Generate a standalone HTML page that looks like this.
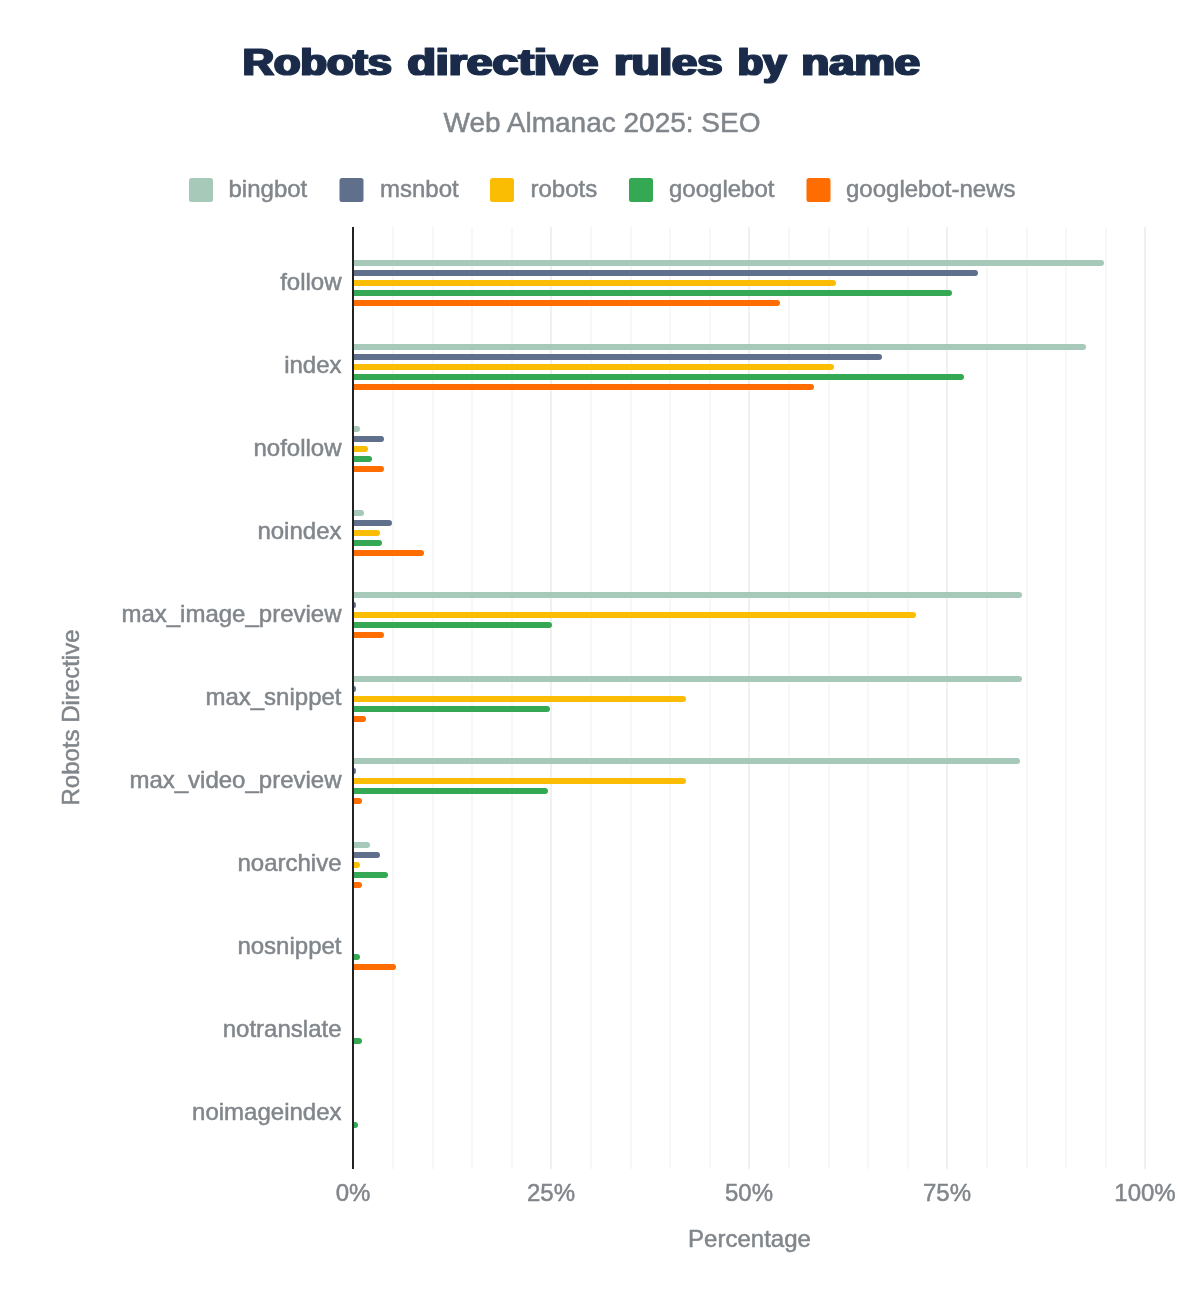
<!DOCTYPE html>
<html lang="en"><head><meta charset="utf-8"><title>Robots directive rules by name</title>
<style>
html,body{margin:0;padding:0;background:#fff;}
body{width:1200px;height:1296px;overflow:hidden;}
svg{display:block;will-change:transform;}
text{font-family:"Liberation Sans",Arial,Helvetica,sans-serif;}
.t{fill:#80868b;font-size:24px;stroke:#80868b;stroke-width:0.5px;}
</style></head><body>
<svg width="1200" height="1296" viewBox="0 0 1200 1296">
<defs><filter id="hv" x="-5%" y="-20%" width="110%" height="140%"><feMorphology operator="dilate" radius="1 0"/></filter></defs>

<rect x="392.0" y="227" width="2" height="942" fill="#f7f7f7"/>
<rect x="432.0" y="227" width="2" height="942" fill="#f7f7f7"/>
<rect x="471.0" y="227" width="2" height="942" fill="#f7f7f7"/>
<rect x="511.0" y="227" width="2" height="942" fill="#f7f7f7"/>
<rect x="550.0" y="227" width="2" height="942" fill="#f0f0f0"/>
<rect x="590.0" y="227" width="2" height="942" fill="#f7f7f7"/>
<rect x="630.0" y="227" width="2" height="942" fill="#f7f7f7"/>
<rect x="669.0" y="227" width="2" height="942" fill="#f7f7f7"/>
<rect x="709.0" y="227" width="2" height="942" fill="#f7f7f7"/>
<rect x="748.0" y="227" width="2" height="942" fill="#f0f0f0"/>
<rect x="788.0" y="227" width="2" height="942" fill="#f7f7f7"/>
<rect x="828.0" y="227" width="2" height="942" fill="#f7f7f7"/>
<rect x="867.0" y="227" width="2" height="942" fill="#f7f7f7"/>
<rect x="907.0" y="227" width="2" height="942" fill="#f7f7f7"/>
<rect x="946.0" y="227" width="2" height="942" fill="#f0f0f0"/>
<rect x="986.0" y="227" width="2" height="942" fill="#f7f7f7"/>
<rect x="1026.0" y="227" width="2" height="942" fill="#f7f7f7"/>
<rect x="1065.0" y="227" width="2" height="942" fill="#f7f7f7"/>
<rect x="1105.0" y="227" width="2" height="942" fill="#f7f7f7"/>
<rect x="1144.0" y="227" width="2" height="942" fill="#f0f0f0"/>
<path d="M354 260 H1101.0 A3 3 0 0 1 1104.0 263 V263 A3 3 0 0 1 1101.0 266 H354 Z" fill="#a6c9b9"/>
<path d="M354 270 H975.0 A3 3 0 0 1 978.0 273 V273 A3 3 0 0 1 975.0 276 H354 Z" fill="#5f6f8c"/>
<path d="M354 280 H833.0 A3 3 0 0 1 836.0 283 V283 A3 3 0 0 1 833.0 286 H354 Z" fill="#fbbc04"/>
<path d="M354 290 H949.0 A3 3 0 0 1 952.0 293 V293 A3 3 0 0 1 949.0 296 H354 Z" fill="#34a853"/>
<path d="M354 300 H777.0 A3 3 0 0 1 780.0 303 V303 A3 3 0 0 1 777.0 306 H354 Z" fill="#ff6d01"/>
<path d="M354 344 H1083.0 A3 3 0 0 1 1086.0 347 V347 A3 3 0 0 1 1083.0 350 H354 Z" fill="#a6c9b9"/>
<path d="M354 354 H879.0 A3 3 0 0 1 882.0 357 V357 A3 3 0 0 1 879.0 360 H354 Z" fill="#5f6f8c"/>
<path d="M354 364 H831.0 A3 3 0 0 1 834.0 367 V367 A3 3 0 0 1 831.0 370 H354 Z" fill="#fbbc04"/>
<path d="M354 374 H961.0 A3 3 0 0 1 964.0 377 V377 A3 3 0 0 1 961.0 380 H354 Z" fill="#34a853"/>
<path d="M354 384 H811.0 A3 3 0 0 1 814.0 387 V387 A3 3 0 0 1 811.0 390 H354 Z" fill="#ff6d01"/>
<path d="M354 426 H357.0 A3 3 0 0 1 360.0 429 V429 A3 3 0 0 1 357.0 432 H354 Z" fill="#a6c9b9"/>
<path d="M354 436 H381.0 A3 3 0 0 1 384.0 439 V439 A3 3 0 0 1 381.0 442 H354 Z" fill="#5f6f8c"/>
<path d="M354 446 H365.0 A3 3 0 0 1 368.0 449 V449 A3 3 0 0 1 365.0 452 H354 Z" fill="#fbbc04"/>
<path d="M354 456 H369.0 A3 3 0 0 1 372.0 459 V459 A3 3 0 0 1 369.0 462 H354 Z" fill="#34a853"/>
<path d="M354 466 H381.0 A3 3 0 0 1 384.0 469 V469 A3 3 0 0 1 381.0 472 H354 Z" fill="#ff6d01"/>
<path d="M354 510 H361.0 A3 3 0 0 1 364.0 513 V513 A3 3 0 0 1 361.0 516 H354 Z" fill="#a6c9b9"/>
<path d="M354 520 H389.0 A3 3 0 0 1 392.0 523 V523 A3 3 0 0 1 389.0 526 H354 Z" fill="#5f6f8c"/>
<path d="M354 530 H377.0 A3 3 0 0 1 380.0 533 V533 A3 3 0 0 1 377.0 536 H354 Z" fill="#fbbc04"/>
<path d="M354 540 H379.0 A3 3 0 0 1 382.0 543 V543 A3 3 0 0 1 379.0 546 H354 Z" fill="#34a853"/>
<path d="M354 550 H421.0 A3 3 0 0 1 424.0 553 V553 A3 3 0 0 1 421.0 556 H354 Z" fill="#ff6d01"/>
<path d="M354 592 H1019.0 A3 3 0 0 1 1022.0 595 V595 A3 3 0 0 1 1019.0 598 H354 Z" fill="#a6c9b9"/>
<path d="M354 602 H354.0 A2 3 0 0 1 356.0 605 V605 A2 3 0 0 1 354.0 608 H354 Z" fill="#5f6f8c"/>
<path d="M354 612 H913.0 A3 3 0 0 1 916.0 615 V615 A3 3 0 0 1 913.0 618 H354 Z" fill="#fbbc04"/>
<path d="M354 622 H549.0 A3 3 0 0 1 552.0 625 V625 A3 3 0 0 1 549.0 628 H354 Z" fill="#34a853"/>
<path d="M354 632 H381.0 A3 3 0 0 1 384.0 635 V635 A3 3 0 0 1 381.0 638 H354 Z" fill="#ff6d01"/>
<path d="M354 676 H1019.0 A3 3 0 0 1 1022.0 679 V679 A3 3 0 0 1 1019.0 682 H354 Z" fill="#a6c9b9"/>
<path d="M354 686 H354.0 A2 3 0 0 1 356.0 689 V689 A2 3 0 0 1 354.0 692 H354 Z" fill="#5f6f8c"/>
<path d="M354 696 H683.0 A3 3 0 0 1 686.0 699 V699 A3 3 0 0 1 683.0 702 H354 Z" fill="#fbbc04"/>
<path d="M354 706 H547.0 A3 3 0 0 1 550.0 709 V709 A3 3 0 0 1 547.0 712 H354 Z" fill="#34a853"/>
<path d="M354 716 H363.0 A3 3 0 0 1 366.0 719 V719 A3 3 0 0 1 363.0 722 H354 Z" fill="#ff6d01"/>
<path d="M354 758 H1017.0 A3 3 0 0 1 1020.0 761 V761 A3 3 0 0 1 1017.0 764 H354 Z" fill="#a6c9b9"/>
<path d="M354 768 H354.0 A2 3 0 0 1 356.0 771 V771 A2 3 0 0 1 354.0 774 H354 Z" fill="#5f6f8c"/>
<path d="M354 778 H683.0 A3 3 0 0 1 686.0 781 V781 A3 3 0 0 1 683.0 784 H354 Z" fill="#fbbc04"/>
<path d="M354 788 H545.0 A3 3 0 0 1 548.0 791 V791 A3 3 0 0 1 545.0 794 H354 Z" fill="#34a853"/>
<path d="M354 798 H359.0 A3 3 0 0 1 362.0 801 V801 A3 3 0 0 1 359.0 804 H354 Z" fill="#ff6d01"/>
<path d="M354 842 H367.0 A3 3 0 0 1 370.0 845 V845 A3 3 0 0 1 367.0 848 H354 Z" fill="#a6c9b9"/>
<path d="M354 852 H377.0 A3 3 0 0 1 380.0 855 V855 A3 3 0 0 1 377.0 858 H354 Z" fill="#5f6f8c"/>
<path d="M354 862 H357.0 A3 3 0 0 1 360.0 865 V865 A3 3 0 0 1 357.0 868 H354 Z" fill="#fbbc04"/>
<path d="M354 872 H385.0 A3 3 0 0 1 388.0 875 V875 A3 3 0 0 1 385.0 878 H354 Z" fill="#34a853"/>
<path d="M354 882 H359.0 A3 3 0 0 1 362.0 885 V885 A3 3 0 0 1 359.0 888 H354 Z" fill="#ff6d01"/>
<path d="M354 954 H357.0 A3 3 0 0 1 360.0 957 V957 A3 3 0 0 1 357.0 960 H354 Z" fill="#34a853"/>
<path d="M354 964 H393.0 A3 3 0 0 1 396.0 967 V967 A3 3 0 0 1 393.0 970 H354 Z" fill="#ff6d01"/>
<path d="M354 1038 H359.0 A3 3 0 0 1 362.0 1041 V1041 A3 3 0 0 1 359.0 1044 H354 Z" fill="#34a853"/>
<path d="M354 1122 H355.0 A3 3 0 0 1 358.0 1125 V1125 A3 3 0 0 1 355.0 1128 H354 Z" fill="#34a853"/>
<rect x="352" y="227" width="2" height="942" fill="#222222"/>
<text class="t" x="341.5" y="290" text-anchor="end">follow</text>
<text class="t" x="341.5" y="373" text-anchor="end">index</text>
<text class="t" x="341.5" y="456" text-anchor="end">nofollow</text>
<text class="t" x="341.5" y="539" text-anchor="end">noindex</text>
<text class="t" x="341.5" y="622" text-anchor="end">max_image_preview</text>
<text class="t" x="341.5" y="705" text-anchor="end">max_snippet</text>
<text class="t" x="341.5" y="788" text-anchor="end">max_video_preview</text>
<text class="t" x="341.5" y="871" text-anchor="end">noarchive</text>
<text class="t" x="341.5" y="954" text-anchor="end">nosnippet</text>
<text class="t" x="341.5" y="1037" text-anchor="end">notranslate</text>
<text class="t" x="341.5" y="1120" text-anchor="end">noimageindex</text>
<text class="t" x="353.0" y="1200.5" text-anchor="middle">0%</text>
<text class="t" x="551.0" y="1200.5" text-anchor="middle">25%</text>
<text class="t" x="749.0" y="1200.5" text-anchor="middle">50%</text>
<text class="t" x="947.0" y="1200.5" text-anchor="middle">75%</text>
<text class="t" x="1145.0" y="1200.5" text-anchor="middle">100%</text>
<text class="t" x="749.5" y="1246.5" text-anchor="middle">Percentage</text>
<text class="t" transform="translate(79.3,717.5) rotate(-90)" text-anchor="middle">Robots Directive</text>
<rect x="189" y="178" width="24" height="24" rx="2.5" fill="#a6c9b9"/>
<text class="t" x="228.5" y="197">bingbot</text>
<rect x="339.5" y="178" width="24" height="24" rx="2.5" fill="#5f6f8c"/>
<text class="t" x="380" y="197">msnbot</text>
<rect x="490" y="178" width="24" height="24" rx="2.5" fill="#fbbc04"/>
<text class="t" x="530.5" y="197">robots</text>
<rect x="629" y="178" width="24" height="24" rx="2.5" fill="#34a853"/>
<text class="t" x="669" y="197">googlebot</text>
<rect x="806.5" y="178" width="24" height="24" rx="2.5" fill="#ff6d01"/>
<text class="t" x="846" y="197">googlebot-news</text>
<text x="242.89" y="75.4" font-size="37.5" font-weight="bold" fill="#1a2b49" stroke="#1a2b49" stroke-width="1" stroke-linejoin="round" filter="url(#hv)" textLength="148.92" lengthAdjust="spacingAndGlyphs">Robots</text>
<text x="407.46" y="75.4" font-size="37.5" font-weight="bold" fill="#1a2b49" stroke="#1a2b49" stroke-width="1" stroke-linejoin="round" filter="url(#hv)" textLength="190.99" lengthAdjust="spacingAndGlyphs">directive</text>
<text x="614.21" y="75.4" font-size="37.5" font-weight="bold" fill="#1a2b49" stroke="#1a2b49" stroke-width="1" stroke-linejoin="round" filter="url(#hv)" textLength="108.21" lengthAdjust="spacingAndGlyphs">rules</text>
<text x="737.76" y="75.4" font-size="37.5" font-weight="bold" fill="#1a2b49" stroke="#1a2b49" stroke-width="1" stroke-linejoin="round" filter="url(#hv)" textLength="48.58" lengthAdjust="spacingAndGlyphs">by</text>
<text x="801.60" y="75.4" font-size="37.5" font-weight="bold" fill="#1a2b49" stroke="#1a2b49" stroke-width="1" stroke-linejoin="round" filter="url(#hv)" textLength="118.41" lengthAdjust="spacingAndGlyphs">name</text>
<text x="602" y="131.5" font-size="28" fill="#80868b" stroke="#80868b" stroke-width="0.5" text-anchor="middle">Web Almanac 2025: SEO</text>
</svg></body></html>
